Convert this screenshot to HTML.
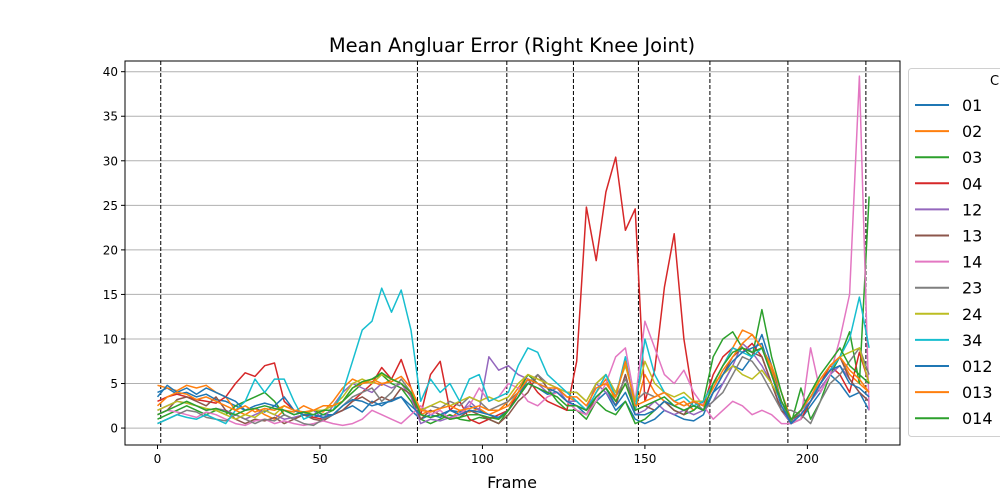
<!DOCTYPE html>
<html><head><meta charset="utf-8"><style>
body{margin:0;background:#fff;}
svg{display:block;font-family:"DejaVu Sans","Liberation Sans",sans-serif;}
</style></head><body>
<svg id="chart" width="1000" height="500" xmlns="http://www.w3.org/2000/svg">
<rect width="1000" height="500" fill="#fff"/>
<text x="512" y="52" text-anchor="middle" font-size="19.5" fill="#000">Mean Angluar Error (Right Knee Joint)</text>
<text x="512" y="488" text-anchor="middle" font-size="16" fill="#000">Frame</text>
<g id="grid"></g><g id="vlines"></g><g id="series"></g><g id="axes"></g><g id="legend"></g>
</svg>
<script>
const seriesNames=["01","02","03","04","12","13","14","23","24","34","012","013","014"];
const colors=["#1f77b4","#ff7f0e","#2ca02c","#d62728","#9467bd","#8c564b","#e377c2","#7f7f7f","#bcbd22","#17becf","#1f77b4","#ff7f0e","#2ca02c"];
const frameStep=3;
const xTicks=[0,50,100,150,200];
const yTicks=[0,5,10,15,20,25,30,35,40];
const markerFrames=[1,80,107.5,128,148,170,194,218];
const s01=[4,4.5,3.8,4,3.5,3.8,3.2,3, 2.5,2,2.2,1.8,2.5,2,1.5,1.8,1.2,1.5, 1.5,2,2.5,1.8,3,2.5,3.2,3.5,2, 1,1.5,1.2,2,1.8,2.5,2,1.5,1, 2,3.5,5,4.5,3.8,4,3, 2.5,1.5,3,4,2,3,1, 0.5,1,2,1.5,1,0.8,1.5, 4,5,7,6.5,8,10.5,7,3, 0.5,1,2.5,4,6,5,3.5,4,2];
const s02=[4.8,4.5,4.2,4.8,4.5,4.8,4,3.5, 2,1.5,2.2,1.5,1,2,1.8,2.5,2,1.8, 3,4.5,5.5,5,5.2,4.8,5.5,5,4, 1.5,2,1.5,1,2,1.8,2.2,1.5,2, 3,4.5,6,5.5,5,4.5,3.5, 3,2,4,5.5,3,5,2, 6,4,3,2.5,3,2,3, 5,7,9,11,10.5,9,7,4, 1,2,3.5,5,7,8,6,5,4];
const s03=[1,1.5,2,2.5,2,1.5,2,1.5, 2.5,3,3.5,4,3,1.5,1,1.5,2,1.5, 2,3,4,5,5.5,6,5,4.5,3, 1,0.5,1,1.5,1,0.8,1.2,1,0.5, 2,4,6,5,4.5,3,2, 2,1,3,2,1.5,3,0.5, 1,2,3,2,1.5,2,3, 8,10,10.8,9,8,13.3,8,4, 0.5,4.5,1,3,6,8,10.8,5,26];
const s04=[3,3.5,3.8,3.5,3.2,3,2.8,3.5, 5,6.2,5.8,7,7.3,3,2,1.5,1.2,1, 1.5,2,3,4,5,6.8,5.5,7.7,4.5, 1.5,6,7.5,2,3,1,0.5,1,1.5, 2,4,5.5,4,3,2.5,2, 7.5,24.8,18.8,26.5,30.4,22.2,24.6, 3,6.5,15.8,21.8,10,3,2.5, 6,8,9,8.5,9.5,8,5,2, 0.5,1,3,5,7,6,4,8.5,5];
const s12=[2,2.5,3,2.8,2.5,2,2.2,2, 1.5,1,1.5,2,1.5,1,1.2,1.5,2,1, 2.5,4,5,4.5,4,5,4.5,5,3.5, 0.5,1,0.8,1.2,1.5,3,2,8,6.5, 7,6,5.5,5,4,4.5,3, 3,2,5,4,2.5,6,1.5, 2,3,2,1.5,2,1.5,2, 3,5,7,9.5,8.5,7,5,2, 0.5,2,3,4.5,6,7,5.5,4,3];
const s13=[1.5,2,3.2,3.5,3,2.5,3.5,2, 1,0.5,1,0.8,1.2,0.5,1,1.5,1,0.8, 1.5,2,3,3.5,2.8,3.5,3,4.5,3.8, 1,2,1.5,1,1.2,2,1.5,1,0.5, 1.5,3,4,6,4.5,4,3, 2,1.5,3.5,4.5,2.5,6,2, 2.5,2,3,2,1.5,3,2, 4,6,8,9,8.5,8,5,2, 1,1.5,3,5,6.5,8,5.5,4,3];
const s14=[1.5,2,1.8,1.5,1.2,1.8,1.5,1, 0.5,0.3,0.8,1,0.5,0.8,0.5,0.3,0.5,0.8, 0.5,0.3,0.5,1,2,1.5,1,0.5,1.5, 2.5,1.5,2,1,1.5,2.5,4.5,3,3.5, 5,4.5,3,2.5,3.5,4,3, 2,1.5,3,5,8,9,3, 12,9,6,5,6.5,4,2.5, 1,2,3,2.5,1.5,2,1.5,0.5, 0.5,1,9,4,6,10,15,39.5,2];
const s23=[0.5,1,1.5,2,1.8,1.2,1,0.8, 1.5,1,0.5,1,0.8,1.5,1,0.5,0.3,1, 1.5,2.5,3.5,4,4.5,3,4,5.5,4, 2,2.5,2.2,3,2.5,3.5,3,2,2.5, 3,4,5,6,5,4.5,4, 4,3,5,6,3.5,5.5,3, 4,3.5,4,3,2.5,3,2, 3,4,6,8,7.5,6,4,2, 2,1.5,0.5,3,5,6,7.5,9,6];
const s24=[2,2.5,3,2.8,2.5,2.2,2,1.5, 1,1.5,1.2,2,1.5,2.5,2,1.5,2,2, 2.5,3.5,5,5.5,5,6,5.5,5,4, 2,2.5,3,2.5,3,3.5,3,3.5,3, 3.5,5,6,5.5,5,4.5,4, 4,3,5,6,4,7,3, 7.5,5,4,3.5,4,3,3, 5,6,7,6,5.5,6.5,5,3, 1,2,4,5.5,7,8,8.5,9,5];
const s34=[0.5,1,1.5,1.2,1,1.5,1,0.5, 2,3,5.5,4,5.5,5.5,3,1,1.5,2, 2,4,7.5,11,12,15.7,13,15.5,11, 3,5.5,4,5,3,5.5,6,3,3.5, 4,7,9,8.5,6,5,4, 3,2,4,6,3.5,8,2, 10,6,4,3,3.5,2.5,3, 5,7,9,8.5,8,9,6,3, 1,2,3.5,5,6.5,8,10,14.7,9];
const s012=[3.5,4.8,4,4.5,3.8,4.5,4,3.5, 3,2,2.5,2.8,2.5,3.5,2,1.5,1.5,1.2, 1.5,2.5,3.2,3,2.5,2.8,3,3.5,2.5, 1.5,1.2,1.5,2,1.5,2,1.8,1.5,1.2, 2,3.5,5.5,5,4.5,4,3, 2.5,2,3.5,4.5,2.5,4,1.5, 1.5,2,3,2.5,2,2.5,2, 4,6,7.5,8.5,9,9.5,6,2.5, 0.5,1.5,3,5,6.5,7,5,4.5,3.5];
const s013=[2.5,3.5,4,3.8,3.2,3.5,3,2.5, 2,2.5,1.8,2.2,2,2.5,2,1.8,2,2.5, 2.5,3,4.5,5,5.5,5,5.2,5.8,4.5, 2,1.8,2.2,2.5,2,2.2,2.5,2,2, 2.5,4,5.5,5,4.5,4.5,3.5, 3.5,2.5,4.5,5,3.5,7.5,2.5, 3,3.5,4,3,2.5,3,2.5, 4.5,6.5,8,9.5,10.5,9,6.5,3, 1,2,3.5,5.5,7,8,6.5,5.5,4];
const s014=[1.5,2,2.5,3,2.5,2,2.2,1.8, 1.5,2,2.2,2.5,2.2,2,1.5,1.8,1.5,2, 2,3,4.5,5.2,5.5,6.2,5.5,5,4, 1.5,1.2,1.5,1,1.2,1.5,1.5,1.2,1, 2,3.5,5,4.5,4,3.5,2.5, 2.5,2,3.5,4.5,3,5,2, 2.5,3,3.5,2.5,2,2.5,2, 5,7,8.5,9,8.5,9,6,3, 1,2,4,6,7.5,9,7,6,5];
const allSeries=[s01,s02,s03,s04,s12,s13,s14,s23,s24,s34,s012,s013,s014];

const L=125,R=900,T=61,B=445;
const X0=-10,X1=228.5,Y0=-1.9,Y1=41.2;
const xs=f=>L+(f-X0)/(X1-X0)*(R-L);
const ys=v=>B-(v-Y0)/(Y1-Y0)*(B-T);
const NS="http://www.w3.org/2000/svg";
function mk(tag,attrs,parent){const e=document.createElementNS(NS,tag);for(const k in attrs)e.setAttribute(k,attrs[k]);parent.appendChild(e);return e;}
const grid=document.getElementById('grid'),vl=document.getElementById('vlines'),sg=document.getElementById('series'),ax=document.getElementById('axes'),lg=document.getElementById('legend');

yTicks.forEach(t=>{
  const y=ys(t);
  const g=mk('line',{x1:L,x2:R,y1:y,y2:y,stroke:'#b0b0b0','stroke-width':1},grid);
  
  
  const tk=mk('line',{x1:L-4,x2:L,y1:y,y2:y,stroke:'#000'},ax);
  
  
  const tx=mk('text',{x:L-7,y:y+4.5,'text-anchor':'end','font-size':12},ax);
  tx.textContent=t;
  
  
});
xTicks.forEach(t=>{
  const x=xs(t);
  const tk=mk('line',{x1:x,x2:x,y1:B,y2:B+4,stroke:'#000'},ax);
  
  
  const tx=mk('text',{x:x,y:B+18,'text-anchor':'middle','font-size':12},ax);
  tx.textContent=t;
  
  
});
markerFrames.forEach(f=>{
  const x=xs(f);
  const l=mk('line',{x1:x,x2:x,y1:T,y2:B,stroke:'#000','stroke-width':1,'stroke-dasharray':'4,2'},vl);
  
  
});
allSeries.forEach((arr,i)=>{
  const pts=arr.map((v,j)=>xs(j*frameStep).toFixed(1)+','+ys(v).toFixed(1)).join(' ');
  const p=mk('polyline',{points:pts,fill:'none',stroke:colors[i],'stroke-width':1.5,'stroke-linejoin':'round'},sg);
  
  
});
const fr=mk('rect',{x:L,y:T,width:R-L,height:B-T,fill:'none',stroke:'#000','stroke-width':1},ax);



const lb=mk('rect',{x:908.5,y:68.5,width:110,height:368,rx:3,fill:'#fff','fill-opacity':0.8,stroke:'#d0d0d0'},lg);


const lt=mk('text',{x:990,y:85,'font-size':13},lg);
lt.textContent='C';


seriesNames.forEach((n,i)=>{
  const y=105+i*26.1;
  const g=mk('g',{},lg);
  
  
  mk('line',{x1:915,x2:949,y1:y,y2:y,stroke:colors[i],'stroke-width':2},g);
  const t=mk('text',{x:962,y:y+6,'font-size':16},g);
  t.textContent=n;
});
</script>
</body></html>
